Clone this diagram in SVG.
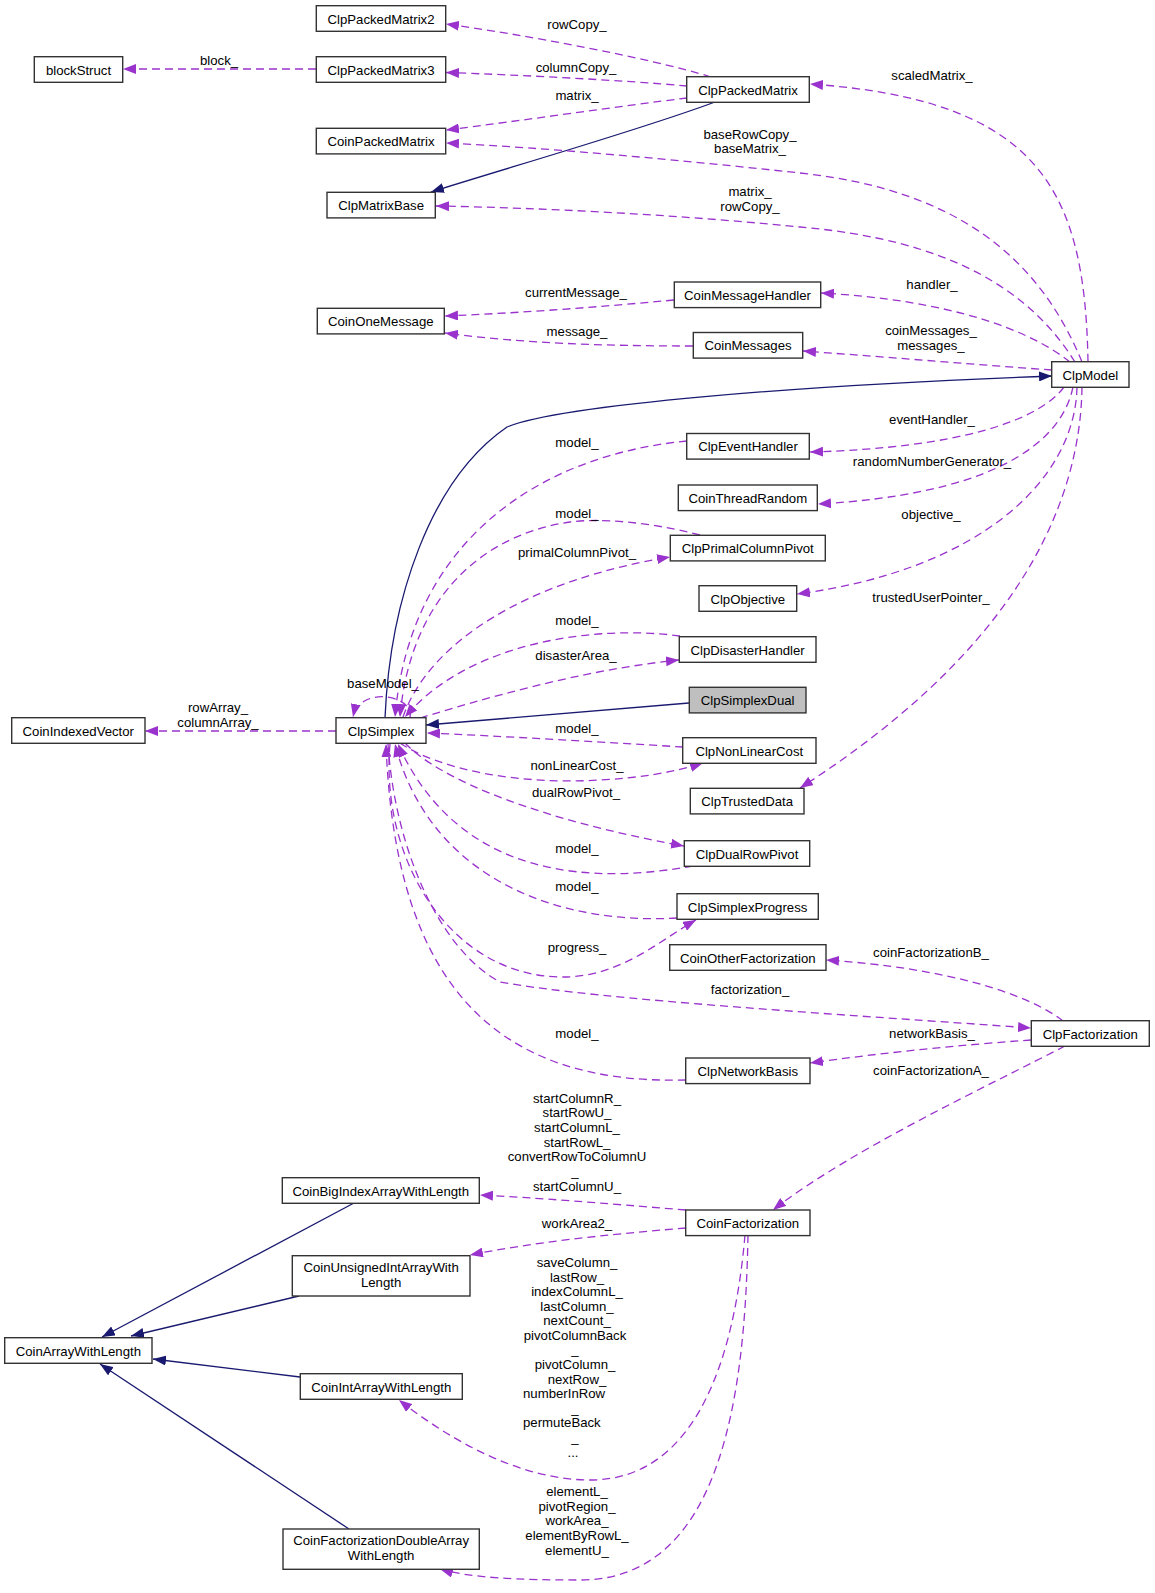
<svg xmlns="http://www.w3.org/2000/svg" width="1155" height="1593" viewBox="0 0 1155 1593">
<style>
text{font-family:"Liberation Sans",Arial,sans-serif;font-size:13.2px;fill:#000}
.n rect{fill:#fff;stroke:#333;stroke-width:1.4}
.n.g rect{fill:#bfbfbf}
.n text{text-anchor:middle}
.e{fill:none;stroke:#9a32cd;stroke-width:1.3;stroke-dasharray:8,5}
.i{fill:none;stroke:#191970;stroke-width:1.3}
.l text{text-anchor:middle}
</style>
<defs>
<marker id="ap" markerUnits="userSpaceOnUse" viewBox="0 0 13 10" refX="13" refY="5" markerWidth="13" markerHeight="10" orient="auto"><path d="M0,0 L13,5 L0,10 z" fill="#9a32cd"/></marker>
<marker id="ab" markerUnits="userSpaceOnUse" viewBox="0 0 13 10" refX="13" refY="5" markerWidth="13" markerHeight="10" orient="auto"><path d="M0,0 L13,5 L0,10 z" fill="#191970"/></marker>
</defs>
<rect width="1155" height="1593" fill="#fff"/>
<g id="edges">
<path class="e" marker-end="url(#ap)" d="M711,77 C650,58 520,34 446,24"/>
<path class="e" marker-end="url(#ap)" d="M687,86 C620,80 520,75 446,72.5"/>
<path class="e" marker-end="url(#ap)" d="M687,98 C620,106 520,121 446,130"/>
<path class="i" marker-end="url(#ab)" d="M715,102 C640,130 500,170 431,192"/>
<path class="e" marker-end="url(#ap)" d="M316,69 L123,69"/>
<path class="e" marker-end="url(#ap)" d="M1088,362 C1085,190 1040,100 810,84"/>
<path class="e" marker-end="url(#ap)" d="M1082,362 C1040,260 960,190 800,173 C680,160 550,148 446,143"/>
<path class="e" marker-end="url(#ap)" d="M1075,362 C1030,290 950,240 800,227 C680,215 550,208 436,206"/>
<path class="e" marker-end="url(#ap)" d="M1070,362 C1030,330 950,300 821,293"/>
<path class="e" marker-end="url(#ap)" d="M1052,370 C980,365 900,358 803,351"/>
<path class="e" marker-end="url(#ap)" d="M674,300 C600,307 520,313 445,316"/>
<path class="e" marker-end="url(#ap)" d="M693,346 C600,346 520,343 445,333"/>
<path class="i" marker-end="url(#ab)" d="M385,718 C390,600 430,480 507,427 C560,405 800,385 1052,376"/>
<path class="e" marker-end="url(#ap)" d="M1064,387 C1040,420 960,448 810,452"/>
<path class="e" marker-end="url(#ap)" d="M1073,387 C1060,450 980,495 818,504"/>
<path class="e" marker-end="url(#ap)" d="M1077,387 C1075,480 980,570 797,594"/>
<path class="e" marker-end="url(#ap)" d="M1082,387 C1080,520 1000,660 800,788"/>
<path class="e" marker-end="url(#ap)" d="M687,441 C540,455 410,540 395,717"/>
<path class="e" marker-end="url(#ap)" d="M700,535 C650,522 600,518 570,522 C480,535 410,600 400,717"/>
<path class="e" marker-end="url(#ap)" d="M403,717 C430,640 530,580 670,557"/>
<path class="e" marker-end="url(#ap)" d="M680,636 C600,625 470,640 405,717"/>
<path class="e" marker-end="url(#ap)" d="M420,718 C480,700 580,670 679,660"/>
<path class="e" marker-end="url(#ap)" d="M410,718 C415,695 360,685 353,717"/>
<path class="e" marker-end="url(#ap)" d="M683,747 C600,742 500,736 427,733"/>
<path class="e" marker-end="url(#ap)" d="M400,743 C440,770 520,785 600,780 C640,778 675,772 703,763"/>
<path class="e" marker-end="url(#ap)" d="M405,743 C440,780 540,820 684,846"/>
<path class="e" marker-end="url(#ap)" d="M693,866 C560,890 450,860 398,744"/>
<path class="e" marker-end="url(#ap)" d="M677,918 C560,925 430,880 395,744"/>
<path class="e" marker-end="url(#ap)" d="M390,744 C380,860 450,975 560,977 C620,978 660,940 696,920"/>
<path class="e" marker-end="url(#ap)" d="M388,744 C395,850 440,950 500,982 C600,1000 850,1015 1031,1028"/>
<path class="e" marker-end="url(#ap)" d="M686,1080 C500,1085 395,990 386,744"/>
<path class="e" marker-end="url(#ap)" d="M1063,1021 C1030,995 950,968 826,960"/>
<path class="e" marker-end="url(#ap)" d="M1031,1040 C960,1045 880,1053 810,1063"/>
<path class="e" marker-end="url(#ap)" d="M1065,1046 C990,1085 850,1150 773,1210"/>
<path class="e" marker-end="url(#ap)" d="M686,1210 C600,1203 540,1198 480,1195"/>
<path class="e" marker-end="url(#ap)" d="M686,1228 C600,1235 530,1243 470,1255"/>
<path class="e" marker-end="url(#ap)" d="M745,1235 C735,1350 700,1480 590,1480 C520,1480 450,1440 399,1400"/>
<path class="e" marker-end="url(#ap)" d="M748,1235 C745,1400 720,1580 580,1580 C520,1580 470,1578 440,1569"/>
<path class="i" marker-end="url(#ab)" d="M354,1203 L102,1337"/>
<path class="i" marker-end="url(#ab)" d="M299,1296 L131,1336"/>
<path class="i" marker-end="url(#ab)" d="M300,1377 L153,1359"/>
<path class="i" marker-end="url(#ab)" d="M349,1529 L100,1364"/>
<path class="e" marker-end="url(#ap)" d="M336,731 L145,731"/>
<path class="i" marker-end="url(#ab)" d="M689,703 L426,725"/>
</g>
<g class="l" id="labels">
<text x="577" y="29">rowCopy_</text>
<text x="576" y="72">columnCopy_</text>
<text x="577" y="100">matrix_</text>
<text x="219" y="65">block_</text>
<text x="932" y="80">scaledMatrix_</text>
<text x="750" y="139">baseRowCopy_</text>
<text x="750" y="153">baseMatrix_</text>
<text x="750" y="196">matrix_</text>
<text x="750" y="211">rowCopy_</text>
<text x="932" y="289">handler_</text>
<text x="576" y="297">currentMessage_</text>
<text x="931" y="335">coinMessages_</text>
<text x="931" y="350">messages_</text>
<text x="577" y="336">message_</text>
<text x="932" y="424">eventHandler_</text>
<text x="577" y="447">model_</text>
<text x="932" y="466">randomNumberGenerator_</text>
<text x="577" y="518">model_</text>
<text x="931" y="519">objective_</text>
<text x="577" y="557">primalColumnPivot_</text>
<text x="931" y="602">trustedUserPointer_</text>
<text x="577" y="625">model_</text>
<text x="576" y="660">disasterArea_</text>
<text x="383" y="688">baseModel_</text>
<text x="218" y="712">rowArray_</text>
<text x="218" y="727">columnArray_</text>
<text x="577" y="733">model_</text>
<text x="577" y="770">nonLinearCost_</text>
<text x="576" y="797">dualRowPivot_</text>
<text x="577" y="853">model_</text>
<text x="577" y="891">model_</text>
<text x="577" y="952">progress_</text>
<text x="931" y="957">coinFactorizationB_</text>
<text x="750" y="994">factorization_</text>
<text x="932" y="1038">networkBasis_</text>
<text x="577" y="1038">model_</text>
<text x="931" y="1075">coinFactorizationA_</text>
<text x="577" y="1103">startColumnR_</text>
<text x="577" y="1117">startRowU_</text>
<text x="577" y="1132">startColumnL_</text>
<text x="577" y="1147">startRowL_</text>
<text x="577" y="1161">convertRowToColumnU</text>
<text x="575" y="1176">_</text>
<text x="577" y="1191">startColumnU_</text>
<text x="577" y="1228">workArea2_</text>
<text x="577" y="1267">saveColumn_</text>
<text x="577" y="1282">lastRow_</text>
<text x="577" y="1296">indexColumnL_</text>
<text x="577" y="1311">lastColumn_</text>
<text x="577" y="1325">nextCount_</text>
<text x="575" y="1340">pivotColumnBack</text>
<text x="575" y="1354">_</text>
<text x="575" y="1369">pivotColumn_</text>
<text x="577" y="1384">nextRow_</text>
<text x="523" y="1398" style="text-anchor:start">numberInRow</text>
<text x="575" y="1413">_</text>
<text x="523" y="1427" style="text-anchor:start">permuteBack</text>
<text x="575" y="1442">_</text>
<text x="573" y="1457">...</text>
<text x="577" y="1496">elementL_</text>
<text x="577" y="1511">pivotRegion_</text>
<text x="577" y="1525">workArea_</text>
<text x="577" y="1540">elementByRowL_</text>
<text x="577" y="1555">elementU_</text>
</g>
<g id="ClpPackedMatrix2" class="n"><rect x="316.3" y="5.7" width="129.4" height="25.6"/><text x="381" y="23.5">ClpPackedMatrix2</text></g>
<g id="ClpPackedMatrix3" class="n"><rect x="316.3" y="56.7" width="129.4" height="25.6"/><text x="381" y="74.5">ClpPackedMatrix3</text></g>
<g id="blockStruct" class="n"><rect x="34.3" y="56.7" width="88.4" height="25.6"/><text x="78.5" y="74.5">blockStruct</text></g>
<g id="CoinPackedMatrix" class="n"><rect x="316.3" y="128.3" width="129.4" height="25.6"/><text x="381" y="146.1">CoinPackedMatrix</text></g>
<g id="ClpMatrixBase" class="n"><rect x="327" y="192.3" width="108.3" height="25.6"/><text x="381.1" y="210.1">ClpMatrixBase</text></g>
<g id="ClpPackedMatrix" class="n"><rect x="686.7" y="76.7" width="122.6" height="25.6"/><text x="748" y="94.5">ClpPackedMatrix</text></g>
<g id="CoinMessageHandler" class="n"><rect x="674.3" y="282" width="146.4" height="25.6"/><text x="747.5" y="299.8">CoinMessageHandler</text></g>
<g id="CoinOneMessage" class="n"><rect x="317.3" y="308.3" width="127" height="25.6"/><text x="380.8" y="326.1">CoinOneMessage</text></g>
<g id="CoinMessages" class="n"><rect x="693.3" y="332.5" width="109.4" height="25.6"/><text x="748" y="350.3">CoinMessages</text></g>
<g id="ClpModel" class="n"><rect x="1051.7" y="361.7" width="77.3" height="25.6"/><text x="1090.3" y="379.5">ClpModel</text></g>
<g id="ClpEventHandler" class="n"><rect x="686.7" y="433.5" width="122.6" height="25.6"/><text x="748" y="451.3">ClpEventHandler</text></g>
<g id="CoinThreadRandom" class="n"><rect x="678.3" y="485" width="139" height="25.6"/><text x="747.8" y="502.8">CoinThreadRandom</text></g>
<g id="ClpPrimalColumnPivot" class="n"><rect x="670.3" y="535.3" width="155" height="25.6"/><text x="747.8" y="553.1">ClpPrimalColumnPivot</text></g>
<g id="ClpObjective" class="n"><rect x="699" y="585.7" width="97.7" height="25.6"/><text x="747.8" y="603.5">ClpObjective</text></g>
<g id="ClpDisasterHandler" class="n"><rect x="679.3" y="636.7" width="136.7" height="25.6"/><text x="747.6" y="654.5">ClpDisasterHandler</text></g>
<g id="ClpSimplexDual" class="n g"><rect x="689.3" y="687.3" width="116.7" height="25.6"/><text x="747.6" y="705.1">ClpSimplexDual</text></g>
<g id="ClpSimplex" class="n"><rect x="336" y="717.7" width="90" height="25.6"/><text x="381" y="735.5">ClpSimplex</text></g>
<g id="CoinIndexedVector" class="n"><rect x="11.7" y="717.7" width="133.3" height="25.6"/><text x="78.3" y="735.5">CoinIndexedVector</text></g>
<g id="ClpNonLinearCost" class="n"><rect x="682.7" y="737.7" width="133.3" height="25.6"/><text x="749.3" y="755.5">ClpNonLinearCost</text></g>
<g id="ClpTrustedData" class="n"><rect x="690.3" y="788.3" width="113.7" height="25.6"/><text x="747.2" y="806.1">ClpTrustedData</text></g>
<g id="ClpDualRowPivot" class="n"><rect x="684.3" y="840.7" width="125.4" height="25.6"/><text x="747" y="858.5">ClpDualRowPivot</text></g>
<g id="ClpSimplexProgress" class="n"><rect x="677" y="893.7" width="141.3" height="25.6"/><text x="747.6" y="911.5">ClpSimplexProgress</text></g>
<g id="CoinOtherFactorization" class="n"><rect x="669.7" y="944.7" width="156.3" height="25.6"/><text x="747.8" y="962.5">CoinOtherFactorization</text></g>
<g id="ClpFactorization" class="n"><rect x="1031.3" y="1020.7" width="118" height="25.6"/><text x="1090.3" y="1038.5">ClpFactorization</text></g>
<g id="ClpNetworkBasis" class="n"><rect x="685.7" y="1058" width="124.3" height="25.6"/><text x="747.8" y="1075.8">ClpNetworkBasis</text></g>
<g id="CoinBigIndexArrayWithLength" class="n"><rect x="282.3" y="1177.7" width="197" height="25.6"/><text x="380.8" y="1195.5">CoinBigIndexArrayWithLength</text></g>
<g id="CoinFactorization" class="n"><rect x="685.7" y="1210" width="124.3" height="25.6"/><text x="747.8" y="1227.8">CoinFactorization</text></g>
<g id="CoinUnsignedIntArrayWithLength" class="n"><rect x="292.3" y="1255.7" width="177.7" height="40.3"/><text x="381.1" y="1271.7">CoinUnsignedIntArrayWith</text><text x="381.1" y="1286.7">Length</text></g>
<g id="CoinArrayWithLength" class="n"><rect x="4.7" y="1337.7" width="147.3" height="25.6"/><text x="78.3" y="1355.5">CoinArrayWithLength</text></g>
<g id="CoinIntArrayWithLength" class="n"><rect x="300.3" y="1373.7" width="162" height="25.6"/><text x="381.3" y="1391.5">CoinIntArrayWithLength</text></g>
<g id="CoinFactorizationDoubleArrayWithLength" class="n"><rect x="283" y="1529" width="196.3" height="40.3"/><text x="381.1" y="1545">CoinFactorizationDoubleArray</text><text x="381.1" y="1560">WithLength</text></g>
</svg>
